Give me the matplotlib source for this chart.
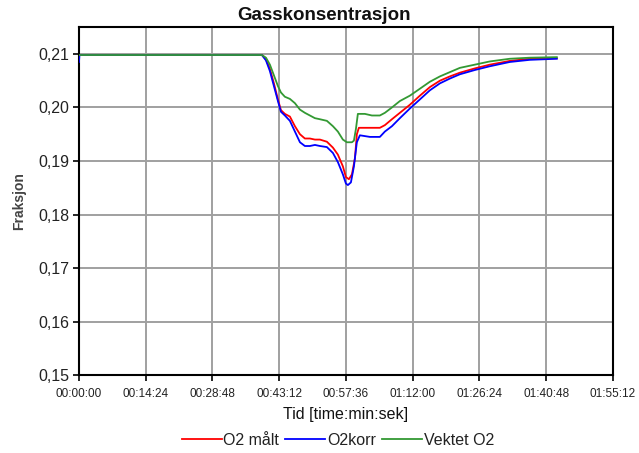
import matplotlib
matplotlib.use("Agg")
import matplotlib.pyplot as plt
from matplotlib.ticker import FuncFormatter, MultipleLocator

plt.rcParams['font.family'] = ['Liberation Sans', 'DejaVu Sans']

# time in seconds
t_red = [0, 2369, 2421, 2472, 2524, 2576, 2615, 2666, 2731, 2796, 2861, 2925, 2990, 3055, 3120, 3210,
         3288, 3352, 3417, 3456, 3495, 3534, 3573, 3598, 3624, 3767, 3896, 3961, 4052, 4155, 4284,
         4414, 4543, 4673, 4802, 4932, 5126, 5320, 5579, 5838, 6187]
o2_malt = [0.2098, 0.2098, 0.2090, 0.2072, 0.2045, 0.2015, 0.1995, 0.1988, 0.1983, 0.1965, 0.1950,
           0.1942, 0.1942, 0.1940, 0.1940, 0.1936, 0.1925, 0.1912, 0.1890, 0.1870, 0.1866, 0.1875,
           0.1905, 0.1950, 0.1962, 0.1962, 0.1962, 0.1967, 0.1978, 0.1990, 0.2005, 0.2022, 0.2038,
           0.2050, 0.2058, 0.2065, 0.2073, 0.2080, 0.2087, 0.2091, 0.2092]

t_blue = [0, 6, 2369, 2421, 2472, 2524, 2576, 2615, 2666, 2731, 2796, 2861, 2925, 2990, 3055, 3120,
          3210, 3288, 3352, 3417, 3456, 3482, 3521, 3560, 3598, 3637, 3767, 3896, 3961, 4052, 4155,
          4284, 4414, 4543, 4673, 4802, 4932, 5126, 5320, 5579, 5838, 6187]
o2_korr = [0.2085, 0.2098, 0.2098, 0.2088, 0.2068, 0.2040, 0.2012, 0.1992, 0.1985, 0.1975, 0.1955,
           0.1935, 0.1928, 0.1928, 0.1930, 0.1928, 0.1926, 0.1915, 0.1898, 0.1875, 0.1858, 0.1855,
           0.1860, 0.1890, 0.1935, 0.1948, 0.1945, 0.1945, 0.1955, 0.1965, 0.1980, 0.1998, 0.2015,
           0.2032, 0.2045, 0.2054, 0.2062, 0.2070, 0.2077, 0.2085, 0.2089, 0.2091]

t_green = [0, 2369, 2421, 2472, 2524, 2576, 2615, 2666, 2731, 2796, 2861, 2925, 2990, 3055, 3120,
           3210, 3288, 3352, 3417, 3469, 3534, 3560, 3586, 3611, 3702, 3793, 3896, 3961, 4052, 4155,
           4284, 4414, 4543, 4673, 4802, 4932, 5126, 5320, 5579, 5838, 6187]
vektet_o2 = [0.2098, 0.2098, 0.2093, 0.2080, 0.2060, 0.2040, 0.2028, 0.2020, 0.2016, 0.2008, 0.1996,
             0.1990, 0.1985, 0.1980, 0.1978, 0.1975, 0.1965, 0.1955, 0.1940, 0.1935, 0.1935, 0.1938,
             0.1960, 0.1988, 0.1988, 0.1985, 0.1985, 0.1990, 0.2000, 0.2012, 0.2022, 0.2035, 0.2048,
             0.2058, 0.2066, 0.2074, 0.2080, 0.2086, 0.2091, 0.2093, 0.2094]

series_names = ['O2 målt', 'O2korr', 'Vektet O2']
series_colors = ['#ff0000', '#0000ff', '#339933']

fig = plt.figure(figsize=(6.39, 4.53), dpi=100)
ax = fig.add_axes([0.1236, 0.172, 0.8354, 0.768])

ax.plot(t_red, o2_malt, color=series_colors[0], lw=1.3, label=series_names[0], zorder=3)
ax.plot(t_blue, o2_korr, color=series_colors[1], lw=1.3, label=series_names[1], zorder=4)
ax.plot(t_green, vektet_o2, color=series_colors[2], lw=1.3, label=series_names[2], zorder=5)

ax.set_xlim(0, 6912)
ax.set_ylim(0.15, 0.215)
ax.xaxis.set_major_locator(MultipleLocator(864))
ax.yaxis.set_major_locator(MultipleLocator(0.01))

def tfmt(v, pos):
    v = int(round(v))
    return f"{v // 3600:02d}:{(v % 3600) // 60:02d}:{v % 60:02d}"

ax.xaxis.set_major_formatter(FuncFormatter(tfmt))
ax.yaxis.set_major_formatter(FuncFormatter(lambda v, p: f"{v:.2f}".replace('.', ',')))

ax.tick_params(axis='x', labelsize=8.5, length=4, width=1.2, direction='out', pad=5,
               labelcolor='#222222')
ax.tick_params(axis='y', labelsize=11.5, length=4, width=1.2, direction='out', pad=3,
               labelcolor='#222222')
ax.grid(True, color='#a0a0a0', lw=1.4)
ax.set_axisbelow(True)
for s in ax.spines.values():
    s.set_color('black')
    s.set_linewidth(1.5)

fig.text(0.507, 0.965, 'Gasskonsentrasjon', fontsize=13.5, fontweight='bold',
         ha='center', va='center', color='#111111')
ax.set_xlabel('Tid [time:min:sek]', fontsize=11.5, labelpad=5, color='#111111')
ax.set_ylabel('Fraksjon', fontsize=10, labelpad=9, fontweight='bold', color='#444444')

ax.legend(loc='upper center', bbox_to_anchor=(0.485, -0.125), ncol=3, frameon=False,
          fontsize=11.5, handlelength=2.5, handletextpad=0.1, columnspacing=0.4,
          labelcolor='#222222')

fig.savefig('out.png', dpi=100, facecolor='white')
